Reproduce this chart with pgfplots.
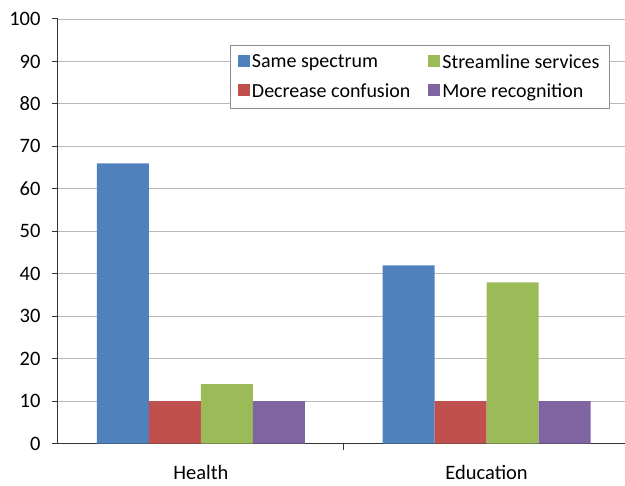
\documentclass[border=0pt]{standalone}
\usepackage{fontspec}
\setmainfont{Carlito}
\usepackage{pgfplots}
\pgfplotsset{compat=1.18}
\definecolor{cblue}{HTML}{4F81BD}
\definecolor{cred}{HTML}{C0504D}
\definecolor{cgreen}{HTML}{9BBB59}
\definecolor{cpurple}{HTML}{8064A2}
\begin{document}
\begin{tikzpicture}
\begin{axis}[
  scale only axis, width=567pt, height=425pt,
  xmin=-0.5, xmax=1.4825, ymin=0, ymax=100,
  axis lines*=left,
  axis line style={draw=black!80, line width=1pt},
  ybar=0pt, bar width=0.1818,
  ytick={0,10,...,100},
  xtick={0.5}, xticklabels={},
  extra x ticks={0,1}, extra x tick labels={Health,Education},
  extra x tick style={major tick length=0pt, grid=none, xticklabel style={inner sep=1pt, yshift=-20pt}},
  tick align=outside, major tick length=6pt,
  tick style={draw=black!80, line width=1pt},
  ymajorgrids, grid style={draw=black!28, line width=0.9pt},
  /pgf/number format/assume math mode=true,
  ticklabel style={font=\fontsize{20.5}{24}\selectfont, text=black},
  yticklabel style={xshift=-8pt},
  legend columns=2, transpose legend,
  legend cell align=left,
  legend style={at={(0.303,0.939)}, anchor=north west, draw=black!45, line width=0.8pt,
    fill=white, font=\fontsize{20}{24}\selectfont, row sep=10pt,
    inner xsep=8pt, inner ysep=7pt,
    /tikz/every even column/.append style={column sep=16pt}},
  legend image code/.code={\fill[#1] (0pt,-5pt) rectangle (12pt,7pt);},
]
\addplot[fill=cblue, draw=none] coordinates {(0,66) (1,42)};
\addlegendentry{Same spectrum}
\addplot[fill=cred, draw=none] coordinates {(0,10) (1,10)};
\addlegendentry{Decrease confusion}
\addplot[fill=cgreen, draw=none] coordinates {(0,14) (1,38)};
\addlegendentry{Streamline services}
\addplot[fill=cpurple, draw=none] coordinates {(0,10) (1,10)};
\addlegendentry{More recognition}
\end{axis}
\path[use as bounding box] (-58pt,-42pt) rectangle (567pt,444pt);
\end{tikzpicture}
\end{document}
